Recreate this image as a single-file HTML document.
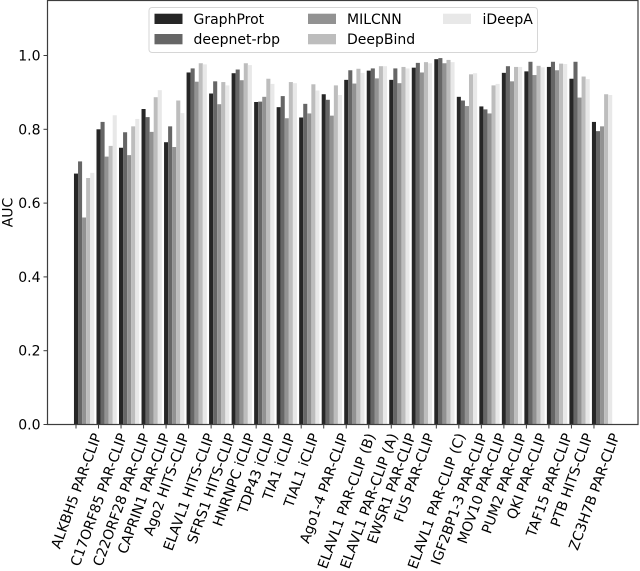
<!DOCTYPE html>
<html lang="en">
<head>
<meta charset="utf-8">
<title>AUC by RBP dataset</title>
<style>
html,body{margin:0;padding:0;background:#fff;}
#chart-frame{display:block;width:640px;height:571px;}
text{font-family:"DejaVu Sans","Liberation Sans",sans-serif;fill:#000;}
</style>
</head>
<body>
<svg id="chart-frame" xmlns="http://www.w3.org/2000/svg" width="640" height="571" viewBox="0 0 640 571">
  <defs>
    <filter id="soft" x="-5%" y="-5%" width="110%" height="110%"><feGaussianBlur stdDeviation="0.33"/></filter>
  </defs>
  <g id="root" filter="url(#soft)">
    <g id="bars"></g>
    <g id="ticks"></g>
    <rect x="47.5" y="0.5" width="590.5" height="424" fill="none" stroke="#3c3c3c" stroke-width="1.2"/>
    <text transform="translate(12.5,212.5) rotate(-90)" text-anchor="middle" font-size="14">AUC</text>
    <g>
      <rect x="149" y="7.5" width="388.5" height="45" rx="3" fill="#fff" fill-opacity="0.9" stroke="#d6d6d6" stroke-width="1"/>
      <g>
        <rect x="154.5" y="13.7" width="28" height="10.3" fill="#262626"/>
        <text x="193.5" y="23.8" font-size="14">GraphProt</text>
      </g>
      <g>
        <rect x="154.5" y="34" width="28" height="10.3" fill="#666666"/>
        <text x="193.5" y="44.2" font-size="14">deepnet-rbp</text>
      </g>
      <g>
        <rect x="308" y="13.7" width="28" height="10.3" fill="#929292"/>
        <text x="347" y="23.8" font-size="14">MILCNN</text>
      </g>
      <g>
        <rect x="308" y="34" width="28" height="10.3" fill="#bdbdbd"/>
        <text x="347" y="44.2" font-size="14">DeepBind</text>
      </g>
      <g>
        <rect x="443" y="13.7" width="28" height="10.3" fill="#e8e8e8"/>
        <text x="482.5" y="23.8" font-size="14">iDeepA</text>
      </g>
    </g>
  </g>
</svg>
<script>
const categories = ["ALKBH5 PAR-CLIP","C17ORF85 PAR-CLIP","C22ORF28 PAR-CLIP","CAPRIN1 PAR-CLIP","Ago2 HITS-CLIP","ELAVL1 HITS-CLIP","SFRS1 HITS-CLIP","HNRNPC iCLIP","TDP43 iCLIP","TIA1 iCLIP","TIAL1 iCLIP","Ago1-4 PAR-CLIP","ELAVL1 PAR-CLIP (B)","ELAVL1 PAR-CLIP (A)","EWSR1 PAR-CLIP","FUS PAR-CLIP","ELAVL1 PAR-CLIP (C)","IGF2BP1-3 PAR-CLIP","MOV10 PAR-CLIP","PUM2 PAR-CLIP","QKI PAR-CLIP","TAF15 PAR-CLIP","PTB HITS-CLIP","ZC3H7B PAR-CLIP"];
const graphProt  = [0.680,0.800,0.750,0.855,0.765,0.954,0.897,0.952,0.874,0.860,0.832,0.895,0.934,0.959,0.934,0.967,0.990,0.888,0.862,0.953,0.957,0.969,0.937,0.820];
const deepnetRbp = [0.713,0.820,0.792,0.833,0.808,0.965,0.930,0.962,0.875,0.890,0.869,0.880,0.960,0.965,0.965,0.980,0.993,0.878,0.854,0.971,0.983,0.983,0.983,0.795];
const milcnn     = [0.561,0.726,0.730,0.793,0.752,0.929,0.868,0.933,0.888,0.830,0.843,0.837,0.924,0.938,0.925,0.954,0.979,0.863,0.843,0.930,0.947,0.960,0.886,0.808];
const deepBind   = [0.668,0.755,0.808,0.887,0.878,0.979,0.928,0.979,0.937,0.928,0.922,0.919,0.964,0.971,0.969,0.982,0.988,0.949,0.919,0.969,0.972,0.978,0.943,0.895];
const iDeepA     = [0.682,0.838,0.828,0.906,0.844,0.976,0.919,0.974,0.923,0.925,0.905,0.893,0.953,0.971,0.965,0.979,0.982,0.952,0.923,0.969,0.968,0.977,0.936,0.893];
const yTickValues = [0.0,0.2,0.4,0.6,0.8,1.0];
const seriesNames = ["graphprot","deepnet-rbp","milcnn","deepbind","ideepa"];
const seriesValues = [graphProt,deepnetRbp,milcnn,deepBind,iDeepA];
const seriesColors = ["#262626","#666666","#929292","#bdbdbd","#e8e8e8"];

const SVG_NS = "http://www.w3.org/2000/svg";
const xOrigin = 76, xStep = 22.52, barWidth = 4.06;
const yBase = 424.5, yPerUnit = 369;
function xScale(i){ return xOrigin + xStep * i; }
function yScale(v){ return yBase - yPerUnit * v; }

const barsGroup = document.getElementById("bars");
const ticksGroup = document.getElementById("ticks");

seriesValues.forEach(function(values, s){
  values.forEach(function(v, i){
    const r = document.createElementNS(SVG_NS, "rect");
    
    
    r.setAttribute("x", xScale(i) - barWidth / 2 + s * barWidth);
    r.setAttribute("y", yScale(v));
    r.setAttribute("width", barWidth);
    r.setAttribute("height", yBase - yScale(v));
    r.setAttribute("fill", seriesColors[s]);
    barsGroup.appendChild(r);
  });
});

yTickValues.forEach(function(v){
  const y = yScale(v);
  const t = document.createElementNS(SVG_NS, "line");
  
  
  t.setAttribute("x1", 43.5);
  t.setAttribute("x2", 47.5);
  t.setAttribute("y1", y);
  t.setAttribute("y2", y);
  t.setAttribute("stroke", "#3c3c3c");
  ticksGroup.appendChild(t);
  const l = document.createElementNS(SVG_NS, "text");
  
  
  l.setAttribute("x", 40.5);
  l.setAttribute("y", y + 5);
  l.setAttribute("text-anchor", "end");
  l.setAttribute("font-size", "14");
  l.textContent = v.toFixed(1);
  ticksGroup.appendChild(l);
});

const ang = 70 * Math.PI / 180;
categories.forEach(function(name, i){
  const x = xScale(i);
  const t = document.createElementNS(SVG_NS, "line");
  
  
  t.setAttribute("x1", x);
  t.setAttribute("x2", x);
  t.setAttribute("y1", 424.5);
  t.setAttribute("y2", 428.5);
  t.setAttribute("stroke", "#3c3c3c");
  ticksGroup.appendChild(t);
  const l = document.createElementNS(SVG_NS, "text");
  
  
  l.setAttribute("text-anchor", "middle");
  l.setAttribute("font-size", "14");
  l.textContent = name;
  ticksGroup.appendChild(l);
  const len = l.getComputedTextLength();
  const boxH = len * Math.sin(ang) + 13 * Math.cos(ang);
  const cy = 431.5 + boxH / 2;
  l.setAttribute("transform", "translate(" + x + "," + cy + ") rotate(-70) translate(0,5)");
});
</script>
</body>
</html>
